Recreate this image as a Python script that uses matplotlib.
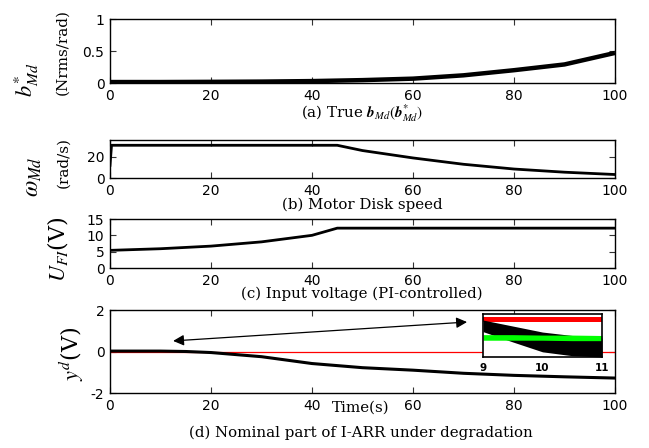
import numpy as np
import matplotlib
matplotlib.use("Agg")
import matplotlib.pyplot as plt

plt.rcParams['mathtext.fontset'] = 'stix'
plt.rcParams['font.family'] = 'DejaVu Sans'
plt.rcParams['axes.unicode_minus'] = False

# ---------------- data ----------------
t_b = [0, 10, 20, 30, 40, 50, 60, 70, 80, 90, 100]
b_md = [0.015, 0.015, 0.018, 0.022, 0.03, 0.045, 0.068, 0.12, 0.2, 0.29, 0.47]

t_w = [0, 0.3, 45, 50, 60, 70, 80, 90, 100]
w_md = [12, 31, 31, 26, 19, 13, 8.5, 5.5, 3.3]

t_u = [0, 10, 20, 30, 40, 45, 100]
u_fi = [5.4, 5.9, 6.7, 8.0, 10.0, 12.2, 12.2]

t_y = [0, 10, 15, 20, 30, 40, 50, 60, 70, 80, 90, 100]
y_d = [0.02, 0.02, 0.0, -0.05, -0.25, -0.58, -0.78, -0.9, -1.05, -1.15, -1.22, -1.28]

t_in = [9, 9.5, 10, 10.5, 11]
red_lo = [0.82, 0.82, 0.82, 0.82, 0.82]
red_hi = [0.93, 0.93, 0.93, 0.93, 0.93]
blk_lo = [0.59, 0.35, 0.12, 0.03, 0.0]
blk_hi = [0.86, 0.72, 0.58, 0.5, 0.44]
grn_lo = [0.39, 0.39, 0.39, 0.38, 0.38]
grn_hi = [0.52, 0.52, 0.51, 0.51, 0.50]

x_ticks = [0, 20, 40, 60, 80, 100]
in_ticks = [9, 10, 11]
arrow_left = (12.5, 0.51)
arrow_right = (70.7, 1.42)

# ---------------- figure ----------------
W, H = 649, 448
fig = plt.figure(figsize=(W / 100, H / 100), dpi=100)


def px_axes(x0, y0, x1, y1):
    return fig.add_axes([x0 / W, 1 - y1 / H, (x1 - x0) / W, (y1 - y0) / H])


def style(ax):
    ax.tick_params(direction='in', top=True, right=True, length=4, width=0.8,
                   labelsize=10, pad=4, color='#333333')
    for s in ax.spines.values():
        s.set_linewidth(1.0)
    ax.set_xlim(0, 100)
    ax.set_xticks(x_ticks)


def ftext(x, y, s, **kw):
    fig.text(x / W, 1 - y / H, s, ha='center', va='center', **kw)


serif = dict(family='DejaVu Serif', fontsize=10.8)

# (a)
ax1 = px_axes(110, 19, 615, 83)
ax1.plot(t_b, b_md, color='black', lw=3.2, solid_capstyle='butt')
ax1.set_ylim(0, 1)
ax1.set_yticks([0, 0.5, 1])
ax1.set_yticklabels(['0', '0.5', '1'])
style(ax1)
ftext(362, 113, r"(a) True $\boldsymbol{b}_{Md}(\boldsymbol{b}^{*}_{Md})$", **serif)
ftext(27, 80, r"$b^{*}_{Md}$", fontsize=16, rotation=90)
ftext(62, 52, "(Nrms/rad)", family='DejaVu Serif', fontsize=11, rotation=90)

# (b)
ax2 = px_axes(110, 140, 615, 178)
ax2.plot(t_w, w_md, color='black', lw=2)
ax2.set_ylim(0, 36)
ax2.set_yticks([0, 20])
style(ax2)
ftext(362, 205, "(b) Motor Disk speed", **serif)
ftext(32, 177, r"$\omega_{Md}$", fontsize=17, rotation=90)
ftext(63, 163, "(rad/s)", family='DejaVu Serif', fontsize=11, rotation=90)

# (c)
ax3 = px_axes(110, 219, 615, 268)
ax3.plot(t_u, u_fi, color='black', lw=2)
ax3.set_ylim(0, 15)
ax3.set_yticks([0, 5, 10, 15])
style(ax3)
ftext(362, 294, "(c) Input voltage (PI-controlled)", **serif)
ftext(58, 249, r"$U_{FI}$" + "(V)", fontsize=16, rotation=90,
      family=['DejaVu Serif'])

# (d)
ax4 = px_axes(110, 310, 615, 393)
ax4.axhline(0, color='red', lw=0.9)
ax4.plot(t_y, y_d, color='black', lw=2.2)
ax4.set_ylim(-2, 2)
ax4.set_yticks([-2, 0, 2])
style(ax4)
ax4.annotate('', xy=arrow_left, xytext=arrow_right,
             arrowprops=dict(arrowstyle='<|-|>', color='black', lw=0.9,
                             mutation_scale=16, shrinkA=0, shrinkB=0))
ftext(361, 408, "Time(s)", **serif)
ftext(361, 433, "(d) Nominal part of I-ARR under degradation", **serif)
ftext(72, 354, r"$y^{d}$" + "(V)", fontsize=16, rotation=90,
      family=['DejaVu Serif'])

# inset
axi = px_axes(483, 314, 602, 357)
axi.fill_between(t_in, red_lo, red_hi, color='#ff0000', lw=0)
axi.fill_between(t_in, blk_lo, blk_hi, color='black', lw=0)
axi.fill_between(t_in, grn_lo, grn_hi, color='#00ff00', lw=0)
axi.set_xlim(9, 11)
axi.set_ylim(0, 1)
axi.set_xticks(in_ticks)
axi.set_yticks([])
axi.tick_params(length=0, labelsize=7.5, pad=4)
for lab in axi.get_xticklabels():
    lab.set_fontweight('bold')
for s in axi.spines.values():
    s.set_linewidth(1.2)

fig.savefig('out.png', dpi=100)
